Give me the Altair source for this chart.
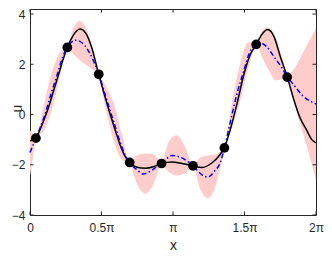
import math
import altair as alt
import pandas as pd

PI = math.pi

# observations (black dots)
obs_x = [0.13, 0.82, 1.51, 2.19, 2.89, 3.58, 4.27, 4.97, 5.65]
obs_u = [-0.94, 2.67, 1.60, -1.91, -1.95, -2.04, -1.33, 2.79, 1.49]

# true function (black solid)
true_x = [0.0, 0.13, 0.22, 0.31, 0.41, 0.52, 0.62, 0.72, 0.82, 0.95, 1.10, 1.22, 1.35, 1.51,
          1.70, 1.85, 1.99, 2.10, 2.19, 2.35, 2.54, 2.71, 2.89, 3.12, 3.34, 3.58, 3.77, 3.98,
          4.16, 4.27, 4.40, 4.55, 4.70, 4.82, 4.97, 5.10, 5.22, 5.36, 5.50, 5.65, 5.79, 5.93,
          6.08, 6.19, 6.283]
true_u = [-1.05, -0.94, -0.6, -0.2, 0.3, 0.95, 1.55, 2.15, 2.67, 3.15, 3.40, 3.25, 2.7, 1.60,
          0.38, -0.5, -1.26, -1.7, -1.91, -2.1, -2.14, -2.08, -1.95, -1.89, -1.95, -2.04, -2.11, -1.95,
          -1.63, -1.32, -0.6, 0.45, 1.6, 2.3, 2.79, 3.2, 3.38, 3.1, 2.3, 1.51, 0.63, -0.12,
          -0.63, -1.0, -1.13]

# GP mean (blue dash-dot)
mean_x = [0.0, 0.13, 0.31, 0.45, 0.60, 0.72, 0.82, 1.0, 1.2, 1.31, 1.51, 1.70, 1.85, 1.99, 2.10,
          2.19, 2.35, 2.49, 2.64, 2.78, 2.89, 3.12, 3.30, 3.58, 3.77, 3.91, 4.05, 4.20, 4.27,
          4.40, 4.55, 4.70, 4.82, 4.97, 5.05, 5.20, 5.36, 5.50, 5.65, 5.79, 5.99, 6.283]
mean_u = [-1.51, -0.94, -0.1, 0.75, 1.6, 2.3, 2.67, 2.96, 2.75, 2.45, 1.6, 0.5, -0.35, -1.15, -1.65,
          -1.91, -2.2, -2.37, -2.26, -2.08, -1.95, -1.63, -1.70, -2.04, -2.39, -2.49, -2.26, -1.82, -1.33,
          -0.3, 0.85, 1.76, 2.45, 2.79, 2.85, 2.7, 2.3, 1.95, 1.51, 1.19, 0.75, 0.42]

# uncertainty band (pink)
band_x = [0.0, 0.065, 0.13, 0.30, 0.475, 0.65, 0.82, 0.95, 1.09, 1.25, 1.38, 1.51,
          1.68, 1.85, 2.02, 2.19, 2.35, 2.54, 2.71, 2.89, 3.05, 3.22, 3.40, 3.58,
          3.75, 3.92, 4.09, 4.27, 4.44, 4.62, 4.80, 4.97, 5.12, 5.25, 5.40, 5.52, 5.65,
          5.79, 5.935, 6.08, 6.283]
band_hi = [-0.63, -0.8, -0.89, 0.35, 1.65, 2.45, 2.72, 3.42, 3.73, 3.35, 2.6, 1.65,
           1.1, 0.4, -0.8, -1.86, -1.63, -1.55, -1.58, -1.9, -1.08, -0.83, -1.25, -1.99,
           -1.7, -1.63, -1.58, -1.28, 0.5, 2.05, 2.88, 2.84, 3.4, 3.45, 3.05, 2.4, 1.56,
           1.79, 2.24, 2.75, 3.42]
band_lo = [-2.45, -1.7, -0.99, -0.65, 0.15, 1.45, 2.62, 2.42, 2.17, 1.95, 1.8, 1.55,
           0.1, -1.1, -1.8, -1.96, -2.77, -3.15, -2.78, -2.0, -2.28, -2.43, -2.35, -2.09,
           -3.0, -3.33, -2.78, -1.38, -0.5, 0.55, 1.88, 2.74, 2.2, 1.75, 1.35, 1.4, 1.46,
           0.59, -0.36, -1.25, -2.58]

xtick_vals = [0, PI / 2, PI, 1.5 * PI, 2 * PI]
xtick_labels = ["0", "0.5π", "π", "1.5π", "2π"]
ytick_vals = [-4, -2, 0, 2, 4]

W, H = 286, 206
FRAME = "#262626"
FONT = "Liberation Sans"

label_expr = ("datum.value < 0.5 ? '%s' : datum.value < 2 ? '%s' : datum.value < 4 ? '%s' : "
              "datum.value < 5.5 ? '%s' : '%s'") % tuple(xtick_labels)

xscale = alt.Scale(domain=[0, 2 * PI], nice=False, zero=False)
yscale = alt.Scale(domain=[-4, 4.2], nice=False, zero=False)

xaxis = alt.Axis(values=xtick_vals, labelExpr=label_expr, title="x", grid=False, domain=False,
                 ticks=False, tickSize=0, labelPadding=7, labelFontSize=12, labelFont=FONT,
                 labelColor=FRAME, labelFlush=False, labelOverlap=False,
                 titleFontSize=14, titleFont=FONT, titleFontWeight="normal", titleColor=FRAME,
                 titleX=W / 2, titleY=34, titleBaseline="alphabetic", titleAlign="center")
yaxis = alt.Axis(values=ytick_vals, title="u", grid=False, domain=False, ticks=False, tickSize=0,
                 labelPadding=5, labelFontSize=12, labelFont=FONT, labelColor=FRAME,
                 labelFlush=False, labelOverlap=False,
                 titleFontSize=14, titleFont=FONT, titleFontWeight="normal", titleColor=FRAME,
                 titleAngle=270, titleX=-9, titleY=H / 2 - 4, titleBaseline="alphabetic",
                 titleAlign="center")

band_df = pd.DataFrame({"x": band_x, "u": band_lo, "hi": band_hi})
true_df = pd.DataFrame({"x": true_x, "u": true_u})
mean_df = pd.DataFrame({"x": mean_x, "u": mean_u})
obs_df = pd.DataFrame({"x": obs_x, "u": obs_u})
xt_df = pd.DataFrame({"x": xtick_vals})
yt_df = pd.DataFrame({"u": ytick_vals})

X = alt.X("x:Q", scale=xscale, axis=xaxis)
Y = alt.Y("u:Q", scale=yscale, axis=yaxis)

band = alt.Chart(band_df).mark_area(color="#ffcccc", interpolate="monotone").encode(
    x=X, y=Y, y2="hi:Q",
)
true_line = alt.Chart(true_df).mark_line(color="black", strokeWidth=1.5, interpolate="monotone").encode(
    x=X, y=Y,
)
mean_line = alt.Chart(mean_df).mark_line(color="#0000ff", strokeWidth=1.5, interpolate="monotone",
                                         strokeDash=[5, 2.5, 1.5, 2.5]).encode(
    x=X, y=Y,
)
points = alt.Chart(obs_df).mark_circle(color="black", size=95, opacity=1).encode(
    x=X, y=Y,
)

tick_len = 3.5
xt_bottom = alt.Chart(xt_df).mark_rule(color=FRAME, strokeWidth=1).encode(
    x=X, y=alt.value(H), y2=alt.value(H - tick_len))
xt_top = alt.Chart(xt_df).mark_rule(color=FRAME, strokeWidth=1).encode(
    x=X, y=alt.value(0), y2=alt.value(tick_len))
yt_left = alt.Chart(yt_df).mark_rule(color=FRAME, strokeWidth=1).encode(
    y=Y, x=alt.value(0), x2=alt.value(tick_len))
yt_right = alt.Chart(yt_df).mark_rule(color=FRAME, strokeWidth=1).encode(
    y=Y, x=alt.value(W), x2=alt.value(W - tick_len))

chart = alt.layer(band, true_line, mean_line, points, xt_bottom, xt_top, yt_left, yt_right).properties(
    width=W, height=H,
    padding={"left": 22, "top": 1, "right": 8, "bottom": 38},
    autosize=alt.AutoSizeParams(type="none"),
).configure_view(stroke=FRAME, strokeWidth=1)

chart.save("out.html", embed_options={"renderer": "svg", "actions": False})
